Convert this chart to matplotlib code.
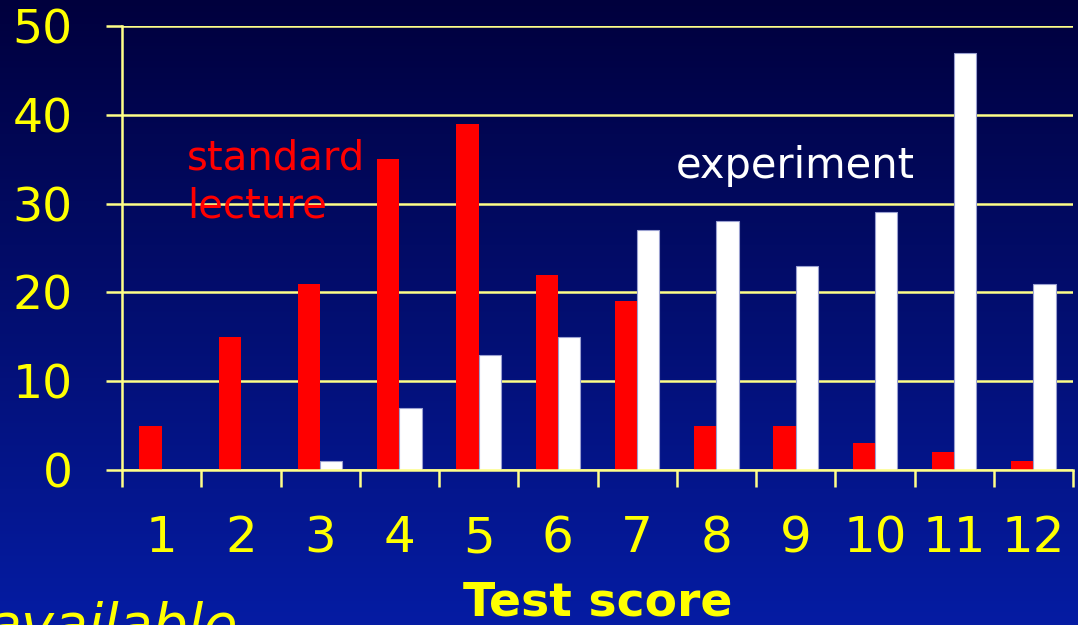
import numpy as np
import matplotlib
matplotlib.use("Agg")
import matplotlib.pyplot as plt

# test score categories and counts
scores = [1, 2, 3, 4, 5, 6, 7, 8, 9, 10, 11, 12]
standard = [5, 15, 21, 35, 39, 22, 19, 5, 5, 3, 2, 1]
experiment = [0, 0, 1, 7, 13, 15, 27, 28, 23, 29, 47, 21]
yticks = [0, 10, 20, 30, 40, 50]

yellow = "#ffff00"
grid_yellow = "#ffff88"

plt.rcParams["font.family"] = "DejaVu Sans"

fig = plt.figure(figsize=(10.78, 6.25), dpi=100)

# background gradient, dark navy at top to blue at bottom
bg = fig.add_axes([0, 0, 1, 1], zorder=-10)
top = np.array([0.0, 0.0, 0.24])
bot = np.array([0.02, 0.11, 0.64])
t = np.linspace(0, 1, 256)[:, None]
grad = top + (bot - top) * t
bg.imshow(grad[:, None, :].repeat(2, axis=1), aspect="auto", extent=[0, 1, 0, 1])
bg.axis("off")

ax = fig.add_axes([0.1132, 0.248, 0.8822, 0.7104])
ax.patch.set_alpha(0)

x = np.array(scores)
w = 0.28
ax.bar(x - w / 2, standard, width=w, color="#ff0000", zorder=3)
ax.bar(x + w / 2, experiment, width=w, color="white", edgecolor="#9aa0d0",
       linewidth=0.8, zorder=3)

ax.set_xlim(0.5, 12.5)
ax.set_ylim(0, 50)

# y grid lines extend left past the axis like ticks
ax.set_yticks(yticks)
ax.yaxis.grid(True, color=grid_yellow, linewidth=1.8, zorder=1)
ax.tick_params(axis="y", colors=grid_yellow, length=11.5, width=1.8, pad=24,
               labelsize=34, labelcolor=yellow)

# x: ticks on category boundaries, labels at centers
ax.set_xticks(np.arange(0.5, 13, 1))
ax.set_xticklabels([])
ax.set_xticks(x, minor=True)
ax.set_xticklabels([str(s) for s in scores], minor=True)
ax.tick_params(axis="x", which="major", colors=grid_yellow, length=12, width=1.8)
ax.tick_params(axis="x", which="minor", length=0, pad=32, labelsize=36,
               labelcolor=yellow)

for side in ["top", "right"]:
    ax.spines[side].set_visible(False)
for side in ["left", "bottom"]:
    ax.spines[side].set_color(grid_yellow)
    ax.spines[side].set_linewidth(1.8)
    ax.spines[side].set_zorder(4)

ax.text(1.32, 28.4, "standard\nlecture", color="#ff0000", fontsize=29,
        linespacing=1.28, va="baseline", ha="left")
ax.text(7.49, 32.9, "experiment", color="white", fontsize=30, va="baseline",
        ha="left")

fig.text(598 / 1078, 1 - 616 / 625, "Test score", color=yellow, fontsize=34,
         fontweight="bold", ha="center", va="baseline")
fig.text(238 / 1078, 1 - 643 / 625, "available", color=yellow, fontsize=40,
         style="italic", ha="right", va="baseline")

fig.savefig("out.png", dpi=100)
